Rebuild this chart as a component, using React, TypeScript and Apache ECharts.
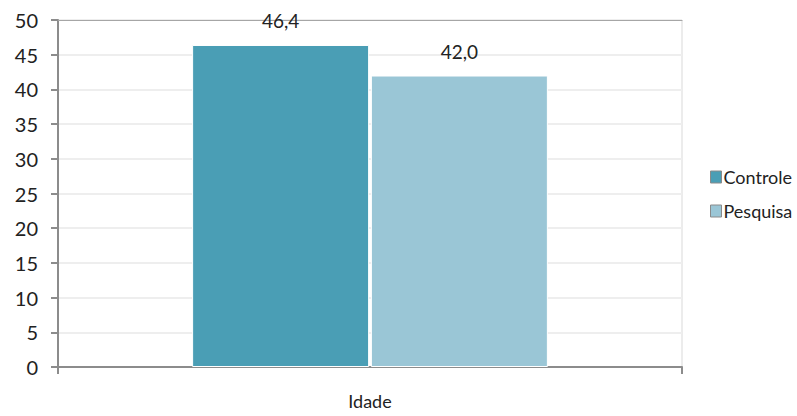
import React, { useEffect, useRef } from "react";
import * as echarts from "echarts";

const categories = ["Idade"];
const seriesNames = ["Controle", "Pesquisa"];
const controleValues = [46.4];
const pesquisaValues = [42.0];
const colors = ["#4A9EB5", "#9AC6D6"];

const FONT = "Lato, 'Open Sans', sans-serif";

export default function App() {
  const ref = useRef<HTMLDivElement>(null);
  useEffect(() => {
    if (!ref.current) return;
    const chart = echarts.init(ref.current, null, { renderer: "svg" });
    const fmt = (p: any) => Number(p.value).toFixed(1).replace(".", ",");
    const mk = (name: string, data: number[], color: string) => ({
      name,
      type: "bar",
      data,
      barWidth: 177,
      barGap: "1%",
      itemStyle: { color, borderColor: "#ffffff", borderWidth: 1 },
      label: {
        show: true,
        position: "top",
        distance: 15,
        formatter: fmt,
        fontFamily: FONT,
        fontSize: 19,
        color: "#222",
      },
    });
    chart.setOption({
      animation: false,
      textStyle: { fontFamily: FONT },
      grid: {
        left: 58,
        right: 115,
        top: 20,
        bottom: 49,
        show: true,
        borderColor: "#d9d9d9",
        borderWidth: 1,
        backgroundColor: "transparent",
      },
      legend: {
        orient: "vertical",
        left: 705,
        top: 163,
        itemWidth: 11,
        itemHeight: 12,
        itemGap: 16,
        icon: "rect",
        data: seriesNames,
        itemStyle: { borderColor: "#8a8a8a", borderWidth: 1 },
        textStyle: { fontFamily: FONT, fontSize: 18, color: "#222", padding: [0, 0, 0, -3] },
      },
      xAxis: [
        {
          type: "category",
          data: categories,
          axisLine: { lineStyle: { color: "#8c8c8c", width: 2 } },
          axisTick: { show: true, length: 7, lineStyle: { color: "#8c8c8c", width: 2 } },
          axisLabel: { margin: 25, fontFamily: FONT, fontSize: 18, color: "#222" },
        },
        {
          type: "category",
          data: categories,
          position: "top",
          axisLine: { lineStyle: { color: "#a6a6a6", width: 1 } },
          axisTick: { show: false },
          axisLabel: { show: false },
        },
      ],
      yAxis: {
        type: "value",
        min: 0,
        max: 50,
        interval: 5,
        axisLine: { show: true, lineStyle: { color: "#8c8c8c", width: 2 } },
        axisTick: { show: true, length: 7, lineStyle: { color: "#8c8c8c", width: 2 } },
        axisLabel: { margin: 20, fontFamily: FONT, fontSize: 20, color: "#222" },
        splitLine: { lineStyle: { color: "#eeeeee", width: 2 } },
      },
      series: [
        mk(seriesNames[0], controleValues, colors[0]),
        mk(seriesNames[1], pesquisaValues, colors[1]),
      ],
    });
    return () => chart.dispose();
  }, []);
  return (
    <div
      ref={ref}
      style={{ position: "absolute", left: 0, top: 0, width: 797, height: 416 }}
    />
  );
}
